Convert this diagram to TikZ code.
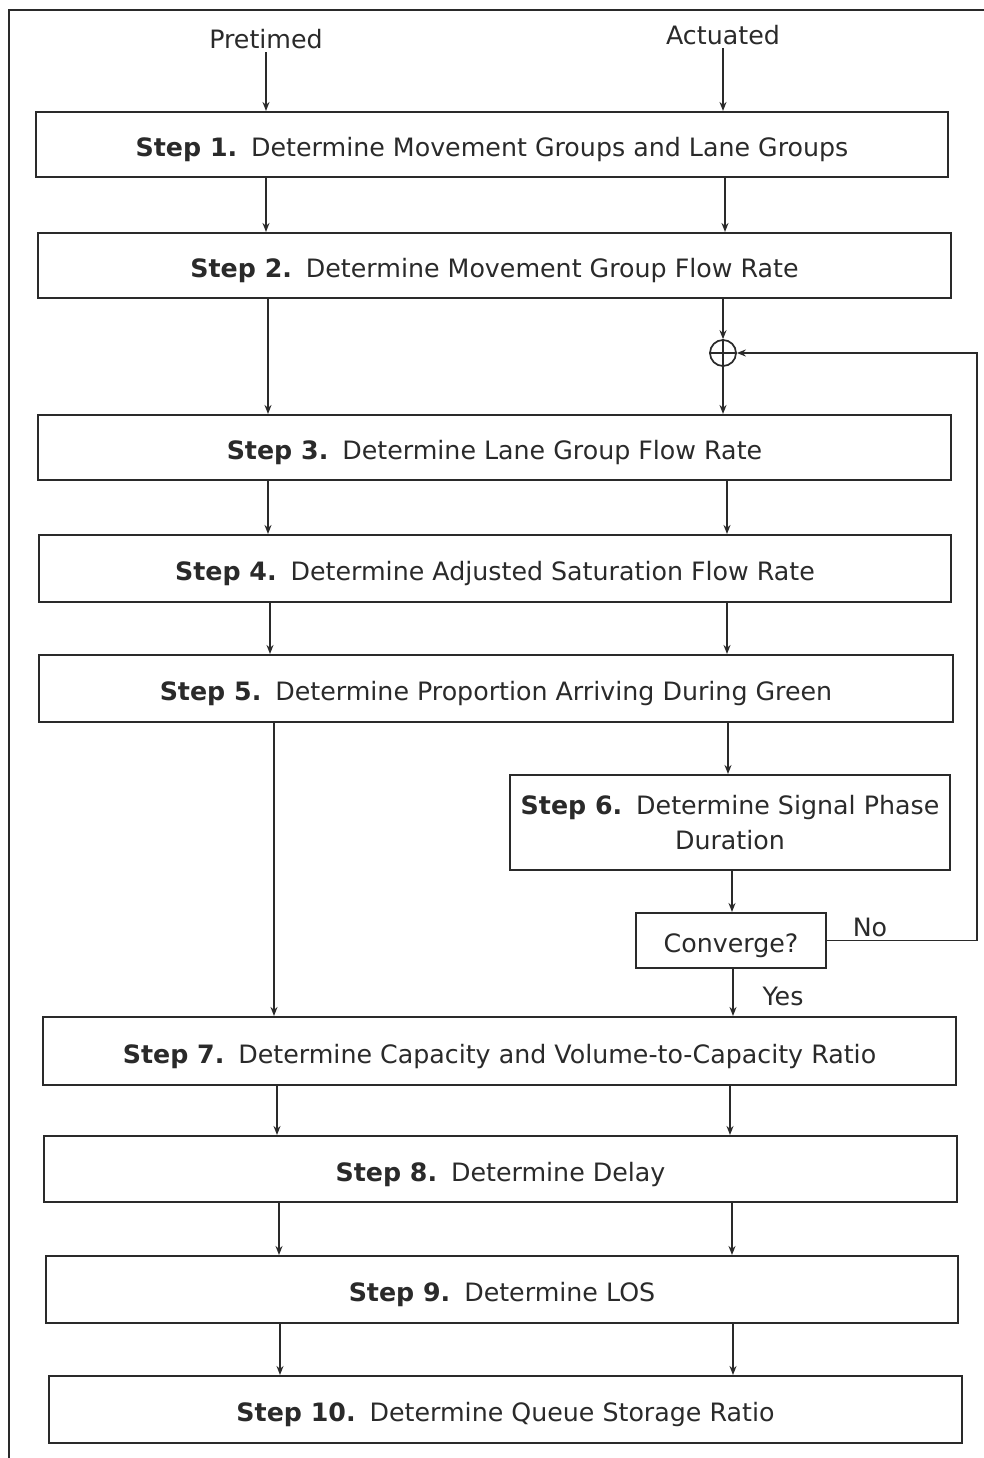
\documentclass[tikz,border=0pt]{standalone}
\usepackage{fontspec}
\setmainfont{DejaVu Sans}
\usetikzlibrary{arrows.meta}
\definecolor{ink}{HTML}{2A2A2A}
\newcommand\steplabel[1]{\textbf{Step #1.}\hspace{0.55em}}
\begin{document}
\begin{tikzpicture}[x=1pt,y=-1pt,
  font=\fontsize{25.3}{35}\selectfont,
  every node/.style={text=ink},
  stepbox/.style={draw=ink, line width=2.1pt, inner sep=0pt, align=center},
  oneline/.style={stepbox, text height=24pt, text depth=0pt},
  arr/.style={draw=ink, line width=1.6pt, -{Stealth[length=9pt,width=7pt]}},
  frame/.style={draw=ink, line width=2.2pt}]
\useasboundingbox (0,0) rectangle (984,1458);

% outer frame
\draw[frame] (9,1458) -- (9,10) -- (984,10);

% inputs
\node (pre) at (266,39) {Pretimed};
\node (act) at (723,35) {Actuated};

% step boxes
\node[oneline, minimum width=912pt, minimum height=65pt] (s1) at (492,144.5) {\steplabel{1}Determine Movement Groups and Lane Groups};
\node[oneline, minimum width=913pt, minimum height=65pt] (s2) at (494.5,265.5) {\steplabel{2}Determine Movement Group Flow Rate};
\node[oneline, minimum width=913pt, minimum height=65pt] (s3) at (494.5,447.5) {\steplabel{3}Determine Lane Group Flow Rate};
\node[oneline, minimum width=912pt, minimum height=67pt] (s4) at (495,568.5) {\steplabel{4}Determine Adjusted Saturation Flow Rate};
\node[oneline, minimum width=914pt, minimum height=67pt] (s5) at (496,688.5) {\steplabel{5}Determine Proportion Arriving During Green};
\node[stepbox, minimum width=440pt, minimum height=95pt] (s6) at (730,822.5) {\raisebox{-2pt}{\steplabel{6}Determine Signal Phase}\\\raisebox{-2pt}{Duration}};
\node[oneline, minimum width=190pt, minimum height=55pt] (conv) at (731,940.5) {Converge?};
\node[oneline, minimum width=913pt, minimum height=68pt] (s7) at (499.5,1051) {\steplabel{7}Determine Capacity and Volume-to-Capacity Ratio};
\node[oneline, minimum width=913pt, minimum height=66pt] (s8) at (500.5,1169) {\steplabel{8}Determine Delay};
\node[oneline, minimum width=912pt, minimum height=67pt] (s9) at (502,1289.5) {\steplabel{9}Determine LOS};
\node[oneline, minimum width=913pt, minimum height=67pt] (s10) at (505.5,1409.5) {\steplabel{10}Determine Queue Storage Ratio};

% summing junction
\node[draw=ink, circle, line width=1.7pt, minimum size=26pt, inner sep=0pt] (j) at (723,353) {};
\draw[ink, line width=1.5pt] (j.north) -- (j.south) (j.west) -- (j.east);
\coordinate (fb) at (977,353);

% labels on the decision
\node (no) at (870,927) {No};
\node (yes) at (783,996) {Yes};

% pretimed column
\draw[arr] (pre.south) -- (s1.north -| pre);
\draw[arr] (s1.south -| 266,0) -- (s2.north -| 266,0);
\draw[arr] (s2.south -| 268,0) -- (s3.north -| 268,0);
\draw[arr] (s3.south -| 268,0) -- (s4.north -| 268,0);
\draw[arr] (s4.south -| 270,0) -- (s5.north -| 270,0);
\draw[arr] (s5.south -| 274,0) -- (s7.north -| 274,0);
\draw[arr] (s7.south -| 277,0) -- (s8.north -| 277,0);
\draw[arr] (s8.south -| 279,0) -- (s9.north -| 279,0);
\draw[arr] (s9.south -| 280,0) -- (s10.north -| 280,0);

% actuated column
\draw[arr] (act.south) -- (s1.north -| act);
\draw[arr] (s1.south -| 725,0) -- (s2.north -| 725,0);
\draw[arr] (s2.south -| j) -- (j.north);
\draw[arr] (j.south) -- (s3.north -| j);
\draw[arr] (s3.south -| 727,0) -- (s4.north -| 727,0);
\draw[arr] (s4.south -| 727,0) -- (s5.north -| 727,0);
\draw[arr] (s5.south -| 728,0) -- (s6.north -| 728,0);
\draw[arr] (s6.south -| 732,0) -- (conv.north -| 732,0);
\draw[arr] (conv.south -| 733,0) -- (s7.north -| 733,0);
\draw[arr] (s7.south -| 730,0) -- (s8.north -| 730,0);
\draw[arr] (s8.south -| 732,0) -- (s9.north -| 732,0);
\draw[arr] (s9.south -| 733,0) -- (s10.north -| 733,0);

% iteration loop back to the junction
\draw[arr] (conv.east) -| (fb) -- (j);
\end{tikzpicture}
\end{document}
